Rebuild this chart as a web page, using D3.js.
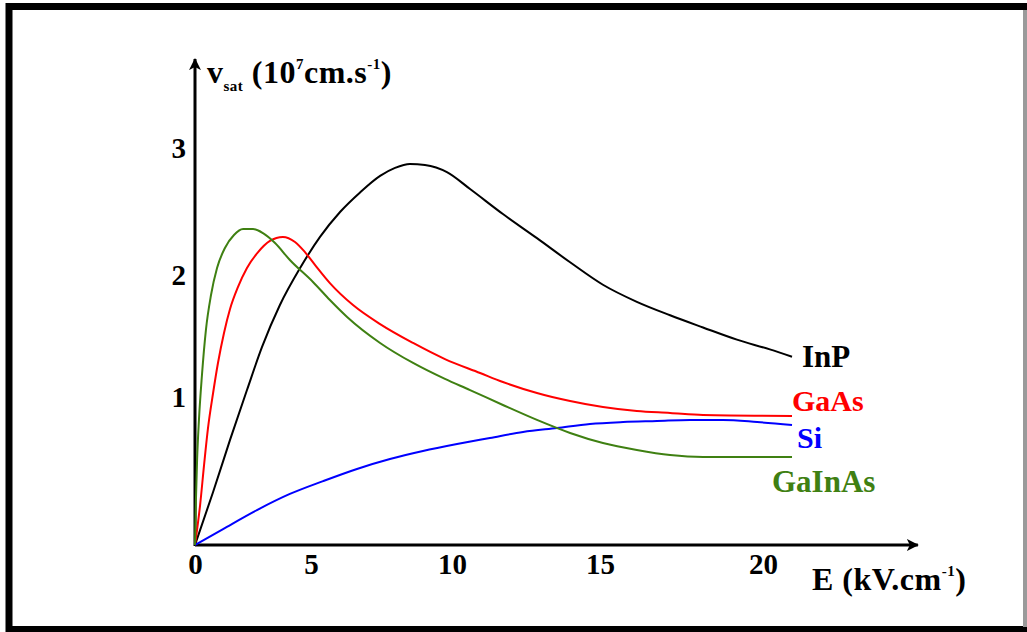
<!DOCTYPE html>
<html>
<head>
<meta charset="utf-8">
<script src="https://cdn.jsdelivr.net/npm/d3@7"></script>
<style>
  body { margin: 0; background: #fff; }
  text { font-family: "Liberation Serif", "Times New Roman", serif; }
</style>
</head>
<body>
<svg width="1027" height="632"></svg>
<script>
// field E (kV/cm) and saturation velocity (1e7 cm/s)
var inpE = [0, 0.78, 1.51, 2.24, 2.89, 3.66, 4.53, 5.32, 6.03, 6.74, 7.45, 7.98, 8.51, 9.04, 9.82, 10.61, 11.72, 12.87, 13.99, 15.09, 16.13, 17.15, 18.16, 19.2, 20.21, 20.89];
var inpV = [0, 0.358, 0.71, 1.057, 1.41, 1.754, 2.055, 2.30, 2.496, 2.65, 2.78, 2.843, 2.874, 2.866, 2.81, 2.677, 2.48, 2.29, 2.10, 1.92, 1.78, 1.67, 1.57, 1.47, 1.39, 1.33];

var gaasE = [0, 0.22, 0.39, 0.56, 0.78, 0.99, 1.25, 1.51, 1.85, 2.24, 2.72, 3.23, 3.79, 4.31, 4.74, 5.14, 5.67, 6.49, 7.45, 8.62, 9.75, 10.95, 11.72, 12.87, 13.99, 15.09, 16.13, 17.15, 18.16, 20.89];
var gaasV = [0, 0.27, 0.54, 0.79, 1.033, 1.279, 1.525, 1.721, 1.90, 2.055, 2.18, 2.268, 2.30, 2.26, 2.18, 2.08, 1.934, 1.754, 1.598, 1.443, 1.311, 1.197, 1.123, 1.033, 0.973, 0.932, 0.905, 0.892, 0.878, 0.872];

var siE = [0, 1.21, 2.67, 4.09, 5.43, 6.63, 7.80, 8.97, 10.17, 11.28, 12.40, 13.55, 14.66, 15.71, 16.75, 17.76, 18.77, 19.82, 20.89];
var siV = [0, 0.108, 0.236, 0.345, 0.432, 0.514, 0.581, 0.635, 0.682, 0.723, 0.764, 0.791, 0.818, 0.831, 0.838, 0.845, 0.845, 0.831, 0.811];

var gainasE = [0, 0.04, 0.09, 0.17, 0.30, 0.47, 0.69, 0.95, 1.29, 1.68, 2.07, 2.50, 2.93, 3.45, 4.09, 5.07, 5.67, 6.28, 7.45, 8.62, 9.75, 10.61, 11.72, 12.87, 13.99, 15.09, 16.13, 17.15, 18.16, 20.89];
var gainasV = [0, 0.30, 0.574, 0.845, 1.18, 1.549, 1.836, 2.055, 2.213, 2.315, 2.362, 2.362, 2.33, 2.252, 2.118, 1.943, 1.795, 1.656, 1.443, 1.279, 1.148, 1.057, 0.946, 0.845, 0.757, 0.689, 0.642, 0.608, 0.595, 0.595];

var xTicks = [0, 5, 10, 15, 20];
var yTicks = [1, 2, 3];

var series = [
  { name: "InP",    E: inpE,    v: inpV,    color: "#000000" },
  { name: "GaAs",   E: gaasE,   v: gaasV,   color: "#ff0000" },
  { name: "Si",     E: siE,     v: siV,     color: "#0000ff" },
  { name: "GaInAs", E: gainasE, v: gainasV, color: "#3f8012" }
];
// label offsets from the end of each curve
var labelDx = { InP: 10, GaAs: 0, Si: 5, GaInAs: -20 };
var labelDy = { InP: 10, GaAs: -5, Si: 23, GaInAs: 35 };

var svg = d3.select("svg");

// the hand-drawn axes are not evenly spaced, so piecewise scales
var x = d3.scaleLinear()
  .domain([0, 5, 10, 15, 20])
  .range([195, 311, 452, 600, 763]);

var y = d3.scaleLinear()
  .domain([0, 1, 2, 3])
  .range([545, 397, 275, 148]);

// frame
svg.append("rect")
  .attr("x", 9).attr("y", 6.5)
  .attr("width", 1030).attr("height", 623)
  .attr("fill", "none")
  .attr("stroke", "#000")
  .attr("stroke-width", 7);
svg.append("rect")
  .attr("x", 1023).attr("y", 10)
  .attr("width", 4).attr("height", 617)
  .attr("fill", "#9a9a9a");

var defs = svg.append("defs");
defs.append("marker")
  .attr("id", "arrow")
  .attr("viewBox", "0 -6 12 12")
  .attr("refX", 11).attr("refY", 0)
  .attr("markerWidth", 12).attr("markerHeight", 12)
  .attr("markerUnits", "userSpaceOnUse")
  .attr("orient", "auto")
  .append("path")
    .attr("d", "M0,-6L12,0L0,6L3,0Z")
    .attr("fill", "#000");

// axis lines with arrows
svg.append("line")
  .attr("x1", x(0)).attr("y1", y(0))
  .attr("x2", x(24.75)).attr("y2", y(0))
  .attr("stroke", "#000").attr("stroke-width", 3)
  .attr("marker-end", "url(#arrow)");
svg.append("line")
  .attr("x1", x(0)).attr("y1", y(0) + 1)
  .attr("x2", x(0)).attr("y2", y(3.7))
  .attr("stroke", "#000").attr("stroke-width", 3)
  .attr("marker-end", "url(#arrow)");

// tick labels only, no tick marks
var xAxis = svg.append("g")
  .attr("transform", "translate(0," + y(0) + ")")
  .call(d3.axisBottom(x).tickValues(xTicks).tickSize(0).tickPadding(8).tickFormat(d3.format("d")));
xAxis.select(".domain").remove();
xAxis.selectAll("text")
  .attr("font-size", 29).attr("font-weight", "bold").attr("fill", "#000");

var yAxis = svg.append("g")
  .attr("transform", "translate(" + x(0) + ",0)")
  .call(d3.axisLeft(y).tickValues(yTicks).tickSize(0).tickPadding(9).tickFormat(d3.format("d")));
yAxis.select(".domain").remove();
yAxis.selectAll("text")
  .attr("font-size", 29).attr("font-weight", "bold").attr("fill", "#000");

// curves
var line = d3.line()
  .x(function(d) { return x(d[0]); })
  .y(function(d) { return y(d[1]); })
  .curve(d3.curveMonotoneX);

series.forEach(function(s) {
  var pts = s.E.map(function(e, i) { return [e, s.v[i]]; });
  svg.append("path")
    .datum(pts)
    .attr("d", line)
    .attr("fill", "none")
    .attr("stroke", s.color)
    .attr("stroke-width", 2);

  var last = pts[pts.length - 1];
  svg.append("text")
    .attr("x", x(last[0]) + labelDx[s.name])
    .attr("y", y(last[1]) + labelDy[s.name])
    .attr("font-size", s.name == "GaAs" || s.name == "Si" ? 30 : 31)
    .attr("font-weight", "bold")
    .attr("fill", s.color)
    .text(s.name);
});

// axis titles
var yt = svg.append("text")
  .attr("x", x(0) + 12)
  .attr("y", 83)
  .attr("font-size", 32)
  .attr("font-weight", "bold")
  .attr("letter-spacing", 0.5)
  .attr("fill", "#000");
yt.append("tspan").text("v");
yt.append("tspan").attr("font-size", 15).attr("dy", 8).text("sat");
yt.append("tspan").attr("dy", -8).text(" (10");
yt.append("tspan").attr("font-size", 15).attr("dy", -14).text("7");
yt.append("tspan").attr("dy", 14).text("cm.s");
yt.append("tspan").attr("font-size", 15).attr("dy", -14).text("-1");
yt.append("tspan").attr("dy", 14).text(")");

var xt = svg.append("text")
  .attr("x", 812)
  .attr("y", 590)
  .attr("font-size", 32)
  .attr("font-weight", "bold")
  .attr("letter-spacing", 0.5)
  .attr("fill", "#000");
xt.append("tspan").text("E (kV.cm");
xt.append("tspan").attr("font-size", 15).attr("dy", -14).text("-1");
xt.append("tspan").attr("dy", 14).text(")");
</script>
</body>
</html>
